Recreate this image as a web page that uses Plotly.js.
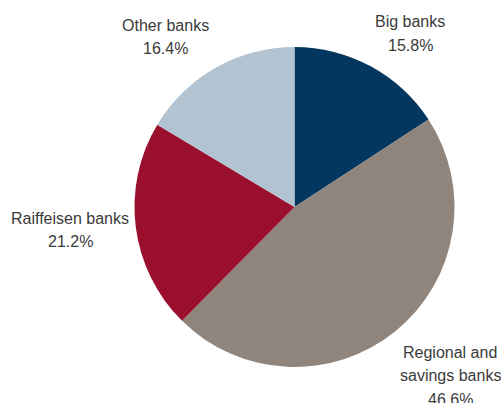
<!DOCTYPE html>
<html>
<head>
<meta charset="utf-8">
<script src="https://cdn.plot.ly/plotly-3.0.1.min.js"></script>
<style>html,body{margin:0;padding:0;background:#fff;}#chart{width:501px;height:403px;}</style>
</head>
<body>
<div id="chart"></div>
<script>
const categories = ["Big banks", "Regional and savings banks", "Raiffeisen banks", "Other banks"];
const labelLines = [["Big banks"], ["Regional and", "savings banks"], ["Raiffeisen banks"], ["Other banks"]];
const shares = [15.8, 46.6, 21.2, 16.4];
const colors = ["#03375f", "#8f857c", "#9b0f2e", "#b2c3d2"];

// label block positions in pixels (layout only): centre x, first line y
const labelPos = [[410, 22], [450, 352], [70, 218], [165, 25]];
const lineGap = 23.5;

const W = 501, H = 403;
const annotations = [];
categories.forEach((c, i) => {
  const lines = labelLines[i].concat([shares[i].toFixed(1) + "%"]);
  lines.forEach((t, k) => {
    annotations.push({
      xref: "paper", yref: "paper",
      x: labelPos[i][0] / W, y: 1 - (labelPos[i][1] + k * lineGap) / H,
      xanchor: "center", yanchor: "middle",
      text: t,
      showarrow: false,
      font: {family: "Liberation Sans, Arial, sans-serif", size: 16, color: "#3a3a3a"},
      align: "center"
    });
  });
});

const data = [{
  type: "pie",
  labels: categories,
  values: shares,
  sort: false,
  direction: "clockwise",
  rotation: 0,
  marker: {colors: colors, line: {width: 0}},
  textinfo: "none",
  hoverinfo: "label+percent",
  domain: {x: [134.5 / W, 454.5 / W], y: [36 / H, 356 / H]}
}];

const layout = {
  width: W, height: H,
  margin: {l: 0, r: 0, t: 0, b: 0},
  showlegend: false,
  paper_bgcolor: "#ffffff",
  annotations: annotations
};

Plotly.newPlot("chart", data, layout, {displayModeBar: false, staticPlot: true});
</script>
</body>
</html>
